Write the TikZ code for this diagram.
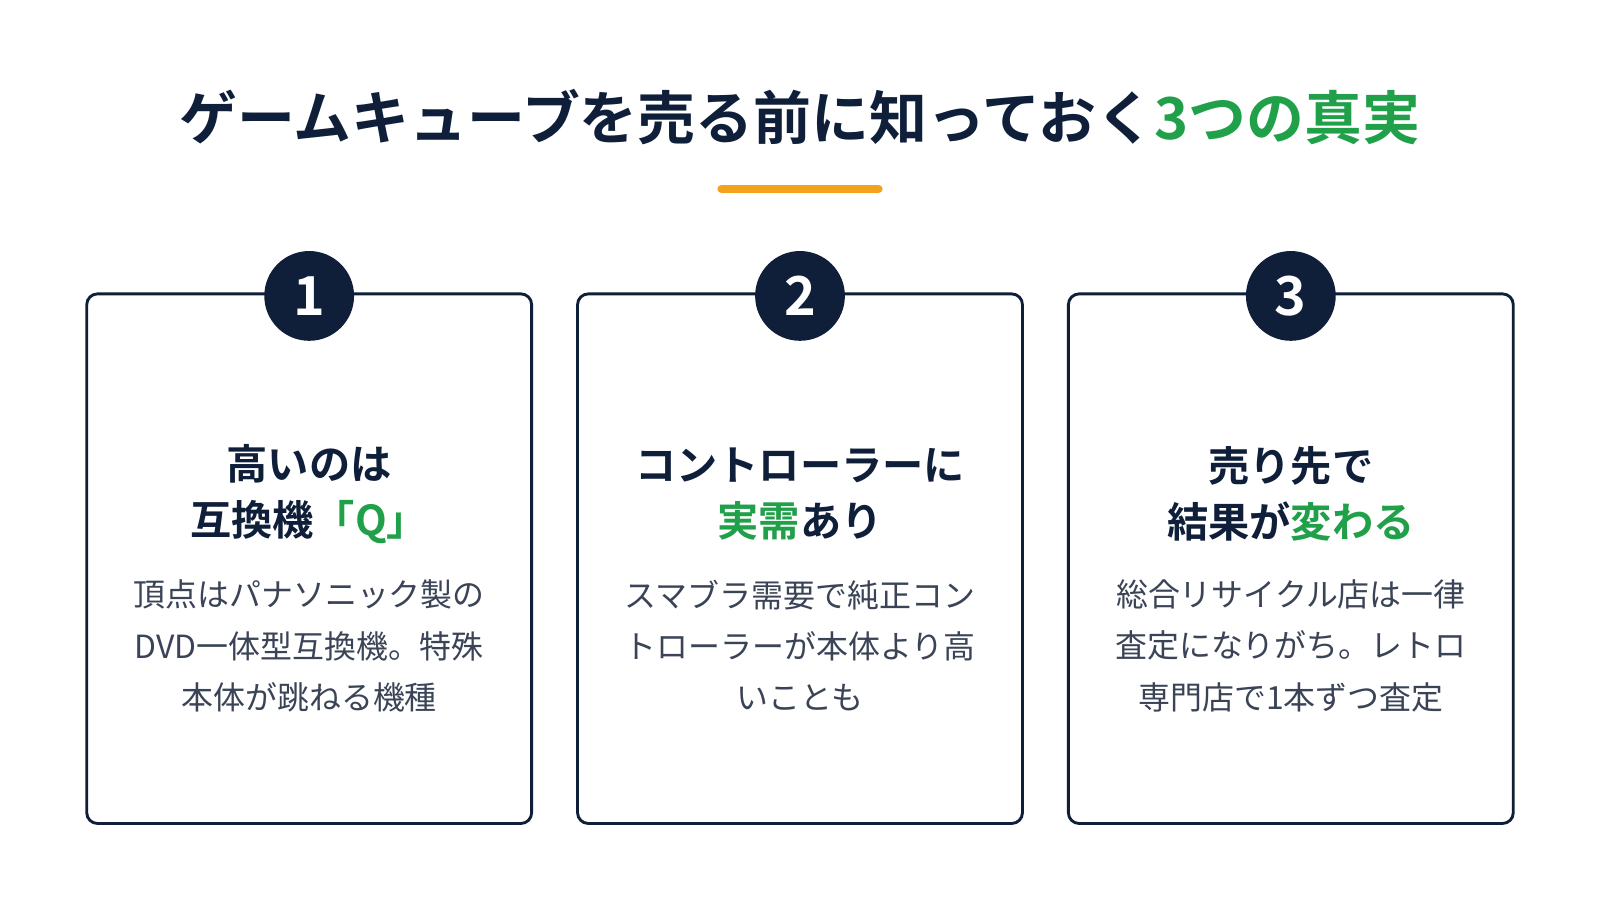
\documentclass[tikz,border=0pt]{standalone}
\usepackage{fontspec}
\setmainfont{Noto Sans CJK JP}[BoldFont=* Bold]
\usetikzlibrary{positioning}
\definecolor{navy}{HTML}{0F1F3A}
\definecolor{green}{HTML}{21A04A}
\definecolor{orange}{HTML}{F2A31B}
\definecolor{body}{HTML}{3A4456}
\tikzset{
  card/.style={draw=navy, line width=1.6pt, rounded corners=6pt, fill=white},
  badge/.style={circle, fill=navy, minimum size=1.76cm, text=white, font=\bfseries\fontsize{30}{30}\selectfont},
  heading/.style={align=center, text=navy, font=\bfseries\fontsize{23}{31}\selectfont},
  blurb/.style={align=center, text=body, font=\fontsize{17.8}{28.5}\selectfont}
}
\newcommand{\hl}[1]{\textcolor{green}{#1}}
\begin{document}
\begin{tikzpicture}[x=0.02cm,y=-0.02cm]
  \useasboundingbox (0,0) rectangle (1568,882);
  % title
  \node[text=navy, font=\bfseries\fontsize{32.3}{32}\selectfont] (title) at (784,115) {ゲームキューブを売る前に知っておく\hl{3つの真実}};
  \coordinate (rule l) at (707,185);
  \coordinate (rule r) at (861,185);
  \draw[orange, line width=4.5pt, line cap=round] (rule l) -- (rule r);
  % cards
  \foreach \i/\cx/\head/\text in {
      1/303/{高いのは\\互換機\hl{「Q」}}/{頂点はパナソニック製の\\DVD一体型互換機。特殊\\本体が跳ねる機種},
      2/784/{コントローラーに\\\hl{実需}あり}/{スマブラ需要で純正コン\\トローラーが本体より高\\いことも},
      3/1265/{売り先で\\結果が\hl{変わる}}/{総合リサイクル店は一律\\査定になりがち。レトロ\\専門店で1本ずつ査定}} {
    \draw[card] (\cx-218,288) rectangle (\cx+218,807);
    \node[badge] (badge \i) at (\cx,290) {\i};
    \node[heading] (head \i) at (\cx,484) {\head};
    \node[blurb] (text \i) at (\cx,633) {\text};
  }
\end{tikzpicture}
\end{document}
